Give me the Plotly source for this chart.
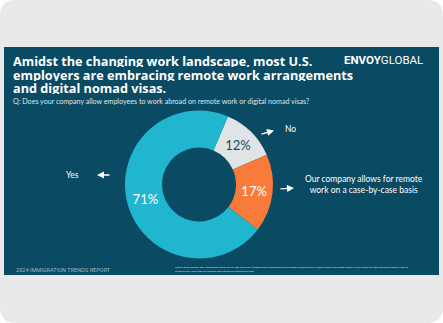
import plotly.graph_objects as go

W, H = 443, 323
labels = ["No", "Our company allows for remote work on a case-by-case basis", "Yes"]
values = [12, 17, 71]
colors = ["#e1e4e7", "#f97b3c", "#20b6cf"]
text_colors = ["#154d63", "#ffffff", "#ffffff"]

title_lines = ["Amidst the changing work landscape, most U.S.",
               "employers are embracing remote work arrangements",
               "and digital nomad visas."]
question = "Q: Does your company allow employees to work abroad on remote work or digital nomad visas?"
footer = "2024 IMMIGRATION TRENDS REPORT"
source = ["Source: Envoy Global's 2024 Immigration Trends Survey. Q8c: Does your company allow employees to work abroad on remote work or digital nomad visas? Data displays % who chose the listed responses totaling 100% as",
          "of March 2024; more than 60 countries have introduced remote work visas."]

PANEL = "#0a4a63"

def px(x):
    return x / W

def py(y):
    return 1 - y / H

fig = go.Figure()
fig.add_trace(go.Pie(
    labels=labels, values=values, sort=False, direction="clockwise", rotation=23,
    hole=0.5, marker=dict(colors=colors, line=dict(width=0)),
    texttemplate="%{value}%", textposition="inside", insidetextorientation="horizontal",
    textfont=dict(family="Lato", size=13, color=text_colors),
    showlegend=False, hoverinfo="label+value",
    domain=dict(x=[px(125), px(273)], y=[py(258.5), py(110.5)]),
))

# rounded outer gray card
r = 16
rx, ry = r / W, r / H
path = (f"M {rx},1 L {1-rx},1 Q 1,1 1,{1-ry} L 1,{ry} Q 1,0 {1-rx},0 "
        f"L {rx},0 Q 0,0 0,{ry} L 0,{1-ry} Q 0,1 {rx},1 Z")
shapes = [
    dict(type="path", xref="paper", yref="paper", path=path,
         fillcolor="#e9e9e9", line=dict(width=0), layer="below"),
    dict(type="rect", xref="paper", yref="paper", x0=px(4), x1=px(439), y0=py(275), y1=py(47),
         fillcolor=PANEL, line=dict(width=0), layer="below"),
]

ann = []
for i, t in enumerate(title_lines):
    ann.append(dict(text=f"<b>{t}</b>", x=px(11), y=py(61.5 + i * 13), xref="paper", yref="paper",
                    xanchor="left", yanchor="middle", showarrow=False, height=12, valign="middle",
                    font=dict(family="Open Sans", size=12.7, color="white")))
ann.append(dict(text=question, x=px(11), y=py(101.5), xref="paper", yref="paper",
                xanchor="left", yanchor="middle", showarrow=False,
                font=dict(family="Lato", size=7.1, color="#dfe8ec")))
ann.append(dict(text="<b>ENVOY</b>GLOBAL", x=px(383.5), y=py(59.5), xref="paper", yref="paper",
                xanchor="center", yanchor="middle", showarrow=False,
                font=dict(family="Roboto", size=11.5, color="white")))
# category labels
ann.append(dict(text=labels[0], x=px(290.5), y=py(129), xref="paper", yref="paper",
                xanchor="center", yanchor="middle", showarrow=False,
                font=dict(family="Lato", size=8.5, color="white")))
ann.append(dict(text=labels[2], x=px(72.5), y=py(175), xref="paper", yref="paper",
                xanchor="center", yanchor="middle", showarrow=False,
                font=dict(family="Lato", size=8.5, color="white")))
ann.append(dict(text="Our company allows for remote<br>work on a case-by-case basis",
                x=px(364), y=py(184), xref="paper", yref="paper",
                xanchor="center", yanchor="middle", showarrow=False,
                font=dict(family="Lato", size=8.5, color="white")))
# arrows
for (hx, hy, tx, ty) in [(274, 130.5, 260, 134.5), (97, 175, 111, 175), (294, 188, 279, 189)]:
    ann.append(dict(text="", x=px(hx), y=py(hy), xref="paper", yref="paper",
                    ax=tx - hx, ay=ty - hy, axref="pixel", ayref="pixel",
                    showarrow=True, arrowhead=2, arrowsize=1, arrowwidth=1.4, arrowcolor="white"))
ann.append(dict(text=footer, x=px(14), y=py(270), xref="paper", yref="paper",
                xanchor="left", yanchor="middle", showarrow=False,
                font=dict(family="Roboto", size=5.6, color="#9fb6c2")))
for i, s in enumerate(source):
    ann.append(dict(text=s, x=px(173), y=py(268 + i * 3.6), xref="paper", yref="paper",
                    xanchor="left", yanchor="middle", showarrow=False, height=3.5,
                    font=dict(family="Roboto", size=2.4, color="#dfe8ec")))

fig.update_layout(width=W, height=H, margin=dict(l=0, r=0, t=0, b=0),
                  paper_bgcolor="white", plot_bgcolor="white",
                  shapes=shapes, annotations=ann)
fig.write_html("out.html", config={"displayModeBar": False})
